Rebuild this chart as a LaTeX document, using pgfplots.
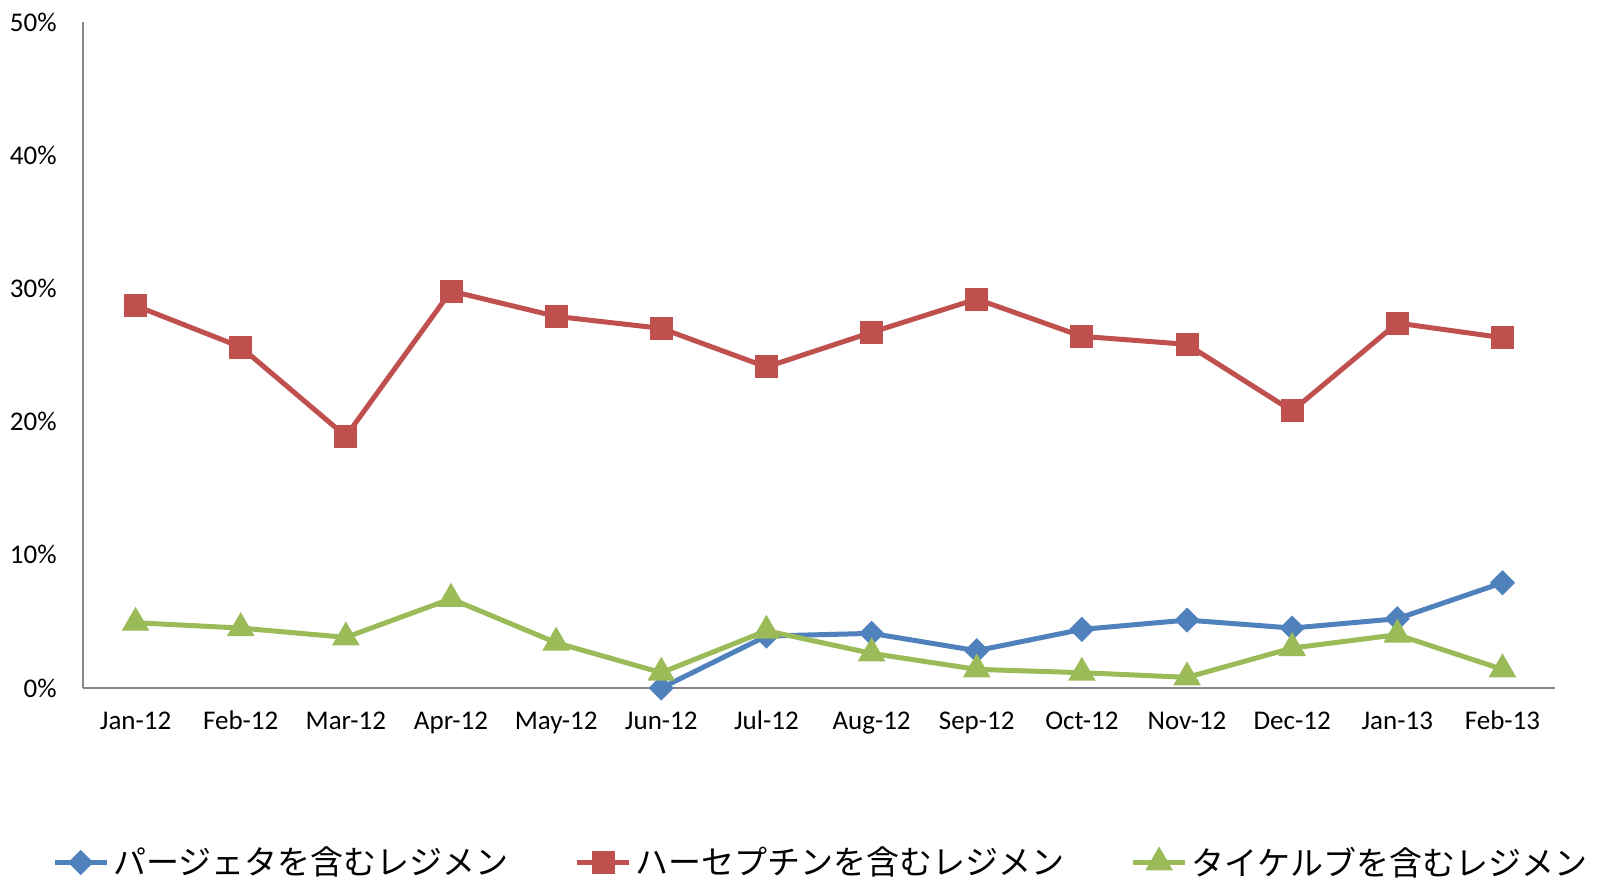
\documentclass[border=0pt]{standalone}
\usepackage{pgfplots}
\pgfplotsset{compat=1.18}
\usepackage{fontspec}
\setmainfont{Carlito}
\newfontfamily\cjk{Noto Sans CJK JP}
\definecolor{cblue}{HTML}{4F81BD}
\definecolor{cred}{HTML}{C0504D}
\definecolor{cgreen}{HTML}{9BBB59}
\definecolor{axgray}{HTML}{868686}
\begin{document}
\begin{tikzpicture}
\begin{axis}[
  at={(41.5pt,97pt)}, anchor=south west,
  scale only axis, width=736pt, height=333pt,
  xmin=-0.5, xmax=13.5, ymin=0, ymax=50,
  axis lines*=left,
  axis line style={draw=axgray, line width=0.6pt, -},
  major tick length=0pt,
  xtick={0,...,13},
  xticklabels={Jan-12,Feb-12,Mar-12,Apr-12,May-12,Jun-12,Jul-12,Aug-12,Sep-12,Oct-12,Nov-12,Dec-12,Jan-13,Feb-13},
  ytick={0,10,20,30,40,50},
  yticklabel={\pgfmathprintnumber{\tick}\%},
  /pgf/number format/assume math mode=true,
  tick label style={font=\fontsize{13.5}{15}\selectfont},
  xticklabel style={anchor=north, inner sep=0pt, text height=8.6pt, text depth=2.5pt, yshift=-12pt},
  yticklabel style={anchor=east, inner sep=0pt, xshift=-13pt},
  clip=false,
  legend columns=3,
  legend style={at={(0.502,-0.262)}, anchor=center, draw=none, fill=none,
    font=\cjk\fontsize{16.5}{20}\selectfont,
    /tikz/every even column/.append style={column sep=31pt}},
  legend image code/.code={\draw[mark repeat=2,mark phase=2,#1] plot coordinates {(0pt,0pt) (13pt,0pt) (26pt,0pt)};},
]
\addplot[color=cblue, line width=2.5pt, mark=square*, mark size=3.2pt, mark options={rotate=45, solid}]
  coordinates {(5,0) (6,3.9) (7,4.1) (8,2.8) (9,4.4) (10,5.1) (11,4.5) (12,5.2) (13,7.9)};
\addlegendentry{パージェタを含むレジメン}
\addplot[color=cred, line width=2.5pt, mark=square*, mark size=4.5pt, mark options={solid}]
  coordinates {(0,28.7) (1,25.6) (2,18.9) (3,29.8) (4,27.9) (5,27.0) (6,24.1) (7,26.7) (8,29.2) (9,26.4) (10,25.8) (11,20.8) (12,27.4) (13,26.3)};
\addlegendentry{ハーセプチンを含むレジメン}
\addplot[color=cgreen, line width=2.5pt, mark=triangle*, mark size=5.5pt, mark options={solid}]
  coordinates {(0,4.9) (1,4.5) (2,3.8) (3,6.7) (4,3.4) (5,1.15) (6,4.3) (7,2.6) (8,1.4) (9,1.15) (10,0.8) (11,3.0) (12,4.0) (13,1.4)};
\addlegendentry{タイケルブを含むレジメン}
\end{axis}
\pgfresetboundingbox
\useasboundingbox (0,0) rectangle (799pt,441pt);
\end{tikzpicture}
\end{document}
